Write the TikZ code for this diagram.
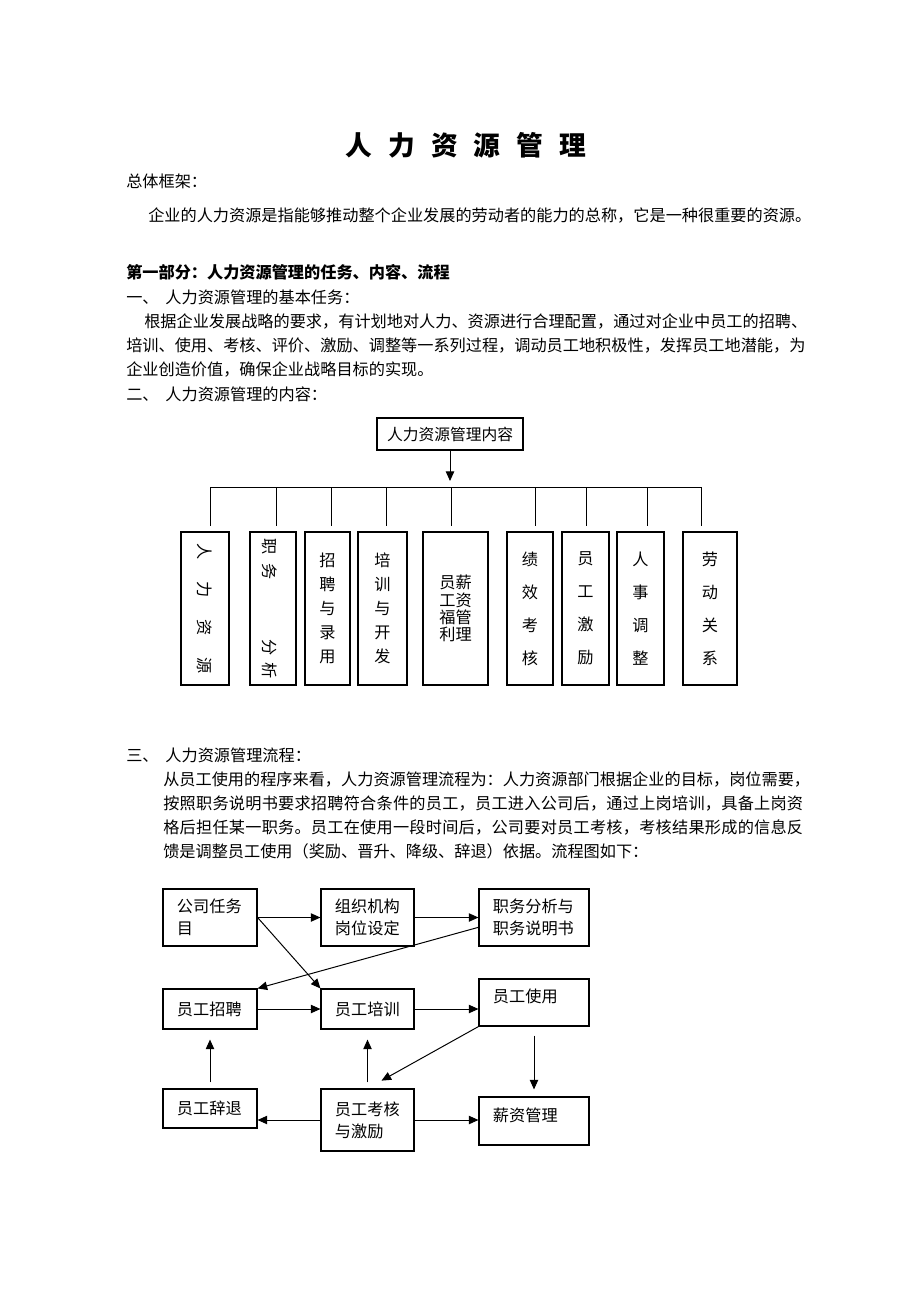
\documentclass[tikz,border=0pt]{standalone}
\usepackage{fontspec}
\setmainfont{Noto Sans CJK SC}
\usepackage{tikz}
\usetikzlibrary{arrows,arrows.meta,shapes}

\tikzset{
  txt/.style={anchor=west, inner sep=0pt, text height=10.1pt, text depth=1.4pt,
    font=\fontsize{11.5pt}{14pt}\selectfont},
  frame/.style={draw, line width=0.8pt, inner sep=0pt},
  vbox/.style={frame, minimum height=3.825cm, align=center},
  fbox/.style={frame, inner xsep=0.35cm, inner ysep=0pt, align=left,
    font=\fontsize{11.5pt}{0.55cm}\selectfont},
  link/.style={line width=0.7pt},
  arr/.style={link, -{Triangle[length=2.4mm,width=2.1mm]}},
}

\begin{document}
\begin{tikzpicture}[x=0.025cm, y=-0.025cm]
    \path[fill=white] (0,0) rectangle (920,1302);
    \useasboundingbox (0,0) rectangle (920,1302);

    % text
    \node[inner sep=0pt, font=\bfseries\fontsize{19pt}{22pt}\selectfont] (title) at (466,145)
        {\spaceskip=0.4cm\relax 人 力 资 源 管 理};
    \node[txt] (frame) at (126,181) {总体框架：};
    \node[txt] (intro) at (148,215) {企业的人力资源是指能够推动整个企业发展的劳动者的能力的总称，它是一种很重要的资源。};
    \node[txt, font=\bfseries\fontsize{11.5pt}{14pt}\selectfont] (part1) at (126,272) {第一部分：人力资源管理的任务、内容、流程};
    \node[txt] (sec1) at (126,297) {一、\hspace{0.17cm}人力资源管理的基本任务：};
    \node[txt] (task1) at (144,321) {根据企业发展战略的要求，有计划地对人力、资源进行合理配置，通过对企业中员工的招聘、};
    \node[txt] (task2) at (126,345) {培训、使用、考核、评价、激励、调整等一系列过程，调动员工地积极性，发挥员工地潜能，为};
    \node[txt] (task3) at (126,369) {企业创造价值，确保企业战略目标的实现。};
    \node[txt] (sec2) at (126,394) {二、\hspace{0.17cm}人力资源管理的内容：};
    \node[txt] (sec3) at (126,755) {三、\hspace{0.17cm}人力资源管理流程：};
    \node[txt] (flow1) at (163,779) {从员工使用的程序来看，人力资源管理流程为：人力资源部门根据企业的目标，岗位需要，};
    \node[txt] (flow2) at (163,803) {\addfontfeature{LetterSpace=1.5}按照职务说明书要求招聘符合条件的员工，员工进入公司后，通过上岗培训，具备上岗资};
    \node[txt] (flow3) at (163,827) {\addfontfeature{LetterSpace=1.5}格后担任某一职务。员工在使用一段时间后，公司要对员工考核，考核结果形成的信息反};
    \node[txt] (flow4) at (163,851) {馈是调整员工使用（奖励、晋升、降级、辞退）依据。流程图如下：};

    % content chart
    \node[frame, minimum width=3.65cm, minimum height=0.8cm, font=\fontsize{11.2pt}{14pt}\selectfont] (root) at (450,434) {人力资源管理内容};
    \node[vbox, minimum width=1.2cm, font=\fontsize{11.5pt}{14pt}\selectfont] (b1) at (205,608.5)
        {\rotatebox{-90}{人\hspace{0.55cm}力\hspace{0.55cm}资\hspace{0.55cm}源}};
    \node[vbox, minimum width=1.15cm, font=\fontsize{11.5pt}{14pt}\selectfont] (b2) at (273,608.5)
        {\hspace{-0.15cm}\rotatebox{-90}{职\hspace{0.225cm}务\hspace{1.475cm}分\hspace{0.175cm}析}};
    \node[vbox, minimum width=1.125cm, font=\fontsize{11.5pt}{0.6cm}\selectfont] (b3) at (327.5,608.5) {招\\聘\\与\\录\\用};
    \node[vbox, minimum width=1.225cm, font=\fontsize{11.5pt}{0.6cm}\selectfont] (b4) at (382.5,608.5) {培\\训\\与\\开\\发};
    \node[vbox, minimum width=1.625cm, font=\fontsize{11.5pt}{0.43cm}\selectfont] (b5) at (455.5,608.5) {员薪\\工资\\福管\\利理};
    \node[vbox, minimum width=1.15cm, font=\fontsize{11.5pt}{0.825cm}\selectfont] (b6) at (530,608.5) {绩\\效\\考\\核};
    \node[vbox, minimum width=1.175cm, font=\fontsize{11.5pt}{0.825cm}\selectfont] (b7) at (585.5,608.5) {员\\工\\激\\励};
    \node[vbox, minimum width=1.175cm, font=\fontsize{11.5pt}{0.825cm}\selectfont] (b8) at (640.5,608.5) {人\\事\\调\\整};
    \node[vbox, minimum width=1.35cm, font=\fontsize{11.5pt}{0.825cm}\selectfont] (b9) at (710,608.5) {劳\\动\\关\\系};

    \coordinate (bus) at (451,487);
    \draw[arr, shorten >=0.15cm] (root) -- (root |- bus);
    \foreach \x [count=\i] in {210,276,331,386,451,535,586,647,701}
        \coordinate (d\i) at (\x,487);
    \draw[link] (d1) -- (d9);
    \foreach \i in {1,...,9}
        \draw[link, shorten >=0.13cm] (d\i) -- (d\i |- b\i.north);

    % flow chart
    \node[fbox, text width=1.65cm, minimum height=1.425cm] (f1) at (210,917.5) {公司任务\\目};
    \node[fbox, text width=1.625cm, minimum height=1.425cm] (f2) at (367.5,917.5) {组织机构\\岗位设定};
    \node[fbox, text width=2.05cm, minimum height=1.425cm] (f3) at (534,917.5) {职务分析与\\职务说明书};
    \node[fbox, text width=1.65cm, minimum height=1cm] (f4) at (210,1009) {员工招聘};
    \node[fbox, text width=1.625cm, minimum height=1cm] (f5) at (367.5,1009) {员工培训};
    \node[fbox, text width=2.05cm, minimum height=1.175cm, text height=0.3cm, text depth=0.3cm] (f6) at (534,1002.5) {员工使用};
    \node[fbox, text width=1.65cm, minimum height=0.975cm] (f7) at (210,1108.5) {员工辞退};
    \node[fbox, text width=1.625cm, minimum height=1.55cm] (f8) at (367.5,1120) {员工考核\\与激励};
    \node[fbox, text width=2.05cm, minimum height=1.2cm, text height=0.3cm, text depth=0.3cm] (f9) at (534,1121) {薪资管理};

    \draw[arr] (f1) -- (f2);
    \draw[arr] (f2) -- (f3);
    \draw[arr] (f1.east) -- (f5.north west);
    \draw[arr] (f3.190) -- (f4.north east);
    \draw[arr] (f4) -- (f5);
    \draw[arr] (f5.east) -- (f5.east -| f6.west);
    \draw[arr, shorten >=0.4cm] (f6.south west) -- (f8.north);
    \draw[arr, shorten <=0.225cm, shorten >=0.175cm] (f6.south) -- (f9.north);
    \draw[arr, shorten <=0.15cm, shorten >=0.25cm] (f8.north) -- (f5.south);
    \draw[arr, shorten <=0.15cm, shorten >=0.25cm] (f7.north) -- (f4.south);
    \draw[arr] (f8.west) -- (f8.west -| f7.east);
    \draw[arr] (f8.east) -- (f8.east -| f9.west);
\end{tikzpicture}
\end{document}
